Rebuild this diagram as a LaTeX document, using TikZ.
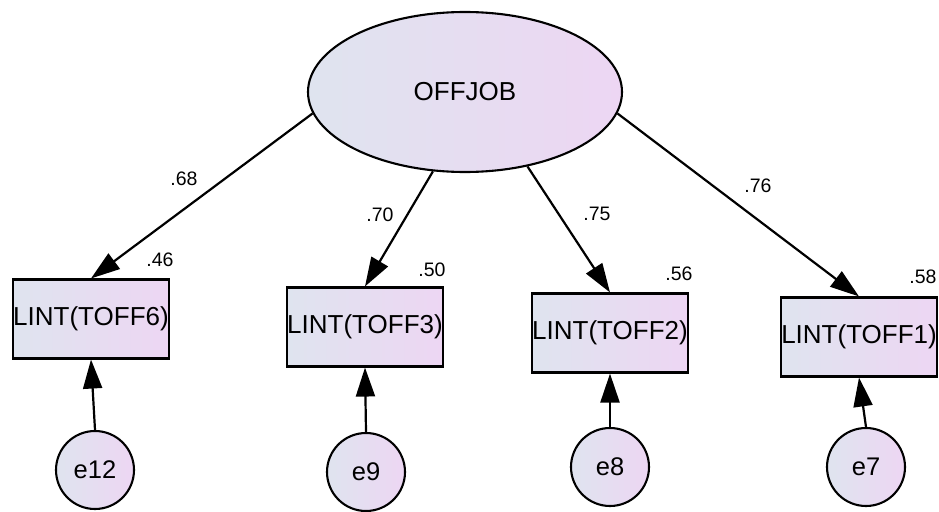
\documentclass[tikz,border=0pt]{standalone}
\usepackage{fontspec}
\setmainfont{Liberation Sans}
\usetikzlibrary{arrows.meta, shapes.geometric}

\definecolor{shadeleft}{HTML}{DFE4EF}
\definecolor{shaderight}{HTML}{EDD6F3}

\tikzset{
    shadeobj/.style={draw=black, line width=2.1pt, left color=shadeleft, right color=shaderight},
    obsbox/.style={shadeobj, rectangle, minimum width=156pt, minimum height=79pt, inner sep=0pt,
        font=\fontsize{26}{30}\selectfont},
    errcirc/.style={shadeobj, circle, minimum size=78pt, inner sep=0pt, font=\fontsize{25.5}{28}\selectfont},
    path/.style={line width=2.2pt, -{Triangle[length=29pt,width=19pt]}},
    coef/.style={font=\fontsize{19.5}{22}\selectfont, inner sep=0pt}
}

\begin{document}
\begin{tikzpicture}[x=1pt, y=-1pt]
    \useasboundingbox (0,0) rectangle (939,511);

    \node[shadeobj, ellipse, minimum width=314pt, minimum height=160pt, inner sep=0pt,
        font=\fontsize{26}{30}\selectfont] (offjob) at (465,92) {OFFJOB};

    \foreach \name\x\y\txt in {t6/91/319/TOFF6, t3/365/327/TOFF3, t2/610/333/TOFF2, t1/859/337/TOFF1} {
        \node[obsbox] (\name) at (\x,\y) {LINT(\txt)};
    }

    \foreach \name\x\y in {e12/95/470, e9/366/472, e8/610/467, e7/866/467} {
        \node[errcirc] (\name) at (\x,\y) {\name};
    }

    % loadings
    \draw[path] (offjob.188) -- (t6.north);
    \draw[path] (offjob.248) -- (t3.north);
    \draw[path] (offjob.310) -- (t2.north);
    \draw[path] (offjob.352) -- (t1.north);

    % errors
    \foreach \e\t in {e12/t6, e9/t3, e8/t2, e7/t1} {
        \draw[path] (\e.north) -- (\t.south);
    }

    \node[coef] (w6) at (184,179) {.68};
    \node[coef] (w3) at (380,215) {.70};
    \node[coef] (w2) at (597,214) {.75};
    \node[coef] (w1) at (758,186) {.76};

    \node[coef] (r6) at (160,260) {.46};
    \node[coef] (r3) at (432,270) {.50};
    \node[coef] (r2) at (679,274) {.56};
    \node[coef] (r1) at (923,277) {.58};
\end{tikzpicture}
\end{document}
